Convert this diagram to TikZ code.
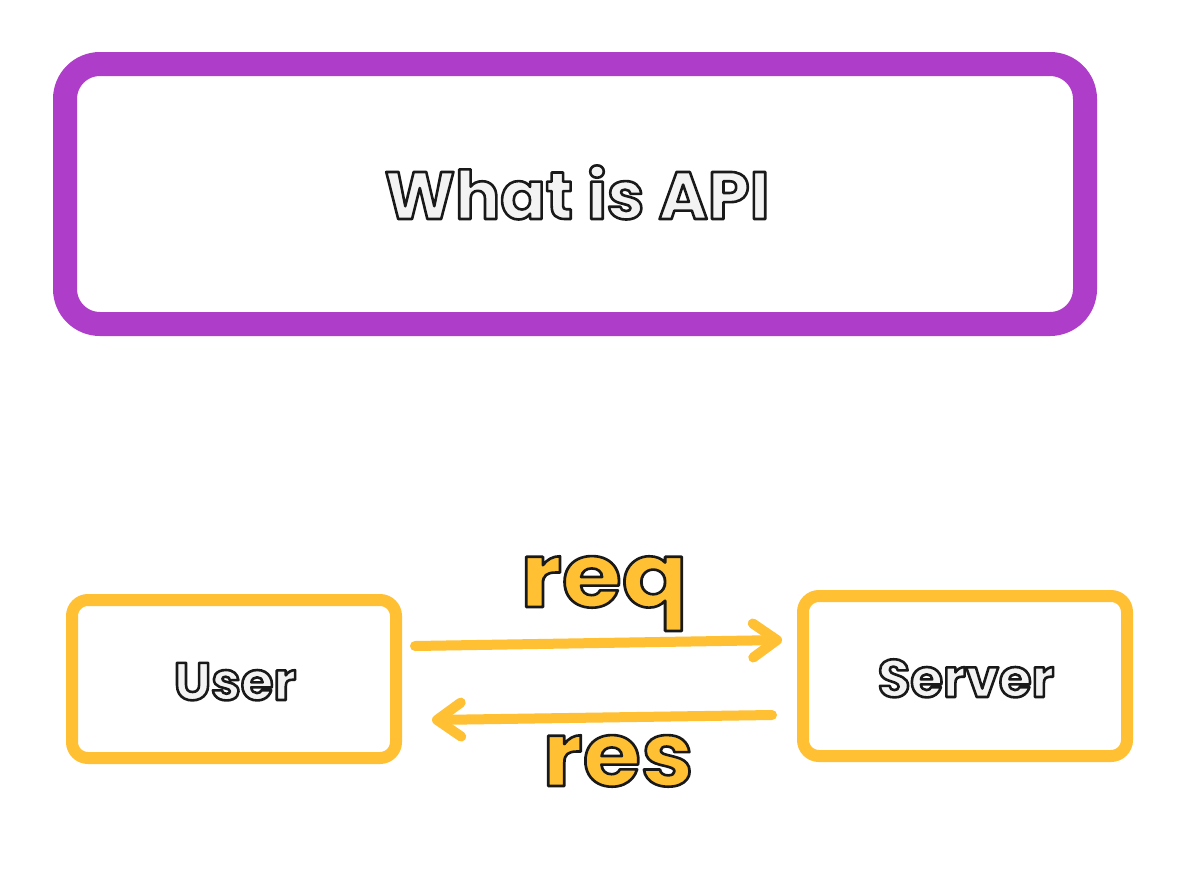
\documentclass[tikz,border=0pt]{standalone}
\usepackage{fontspec}
\setmainfont{Poppins}
\usetikzlibrary{arrows.meta}
\definecolor{violetline}{HTML}{AE3EC9}
\definecolor{yellowline}{HTML}{FFC034}
\definecolor{lightfill}{HTML}{F3F3F3}
\newcommand\outlinetext[2]{\textcolor{#1}{\special{pdf:literal direct 1 j 2.6 w 0.1 G 2 Tr}#2\special{pdf:literal direct 0 Tr}}}
\tikzset{
  titlebox/.style={draw=violetline, line width=24pt, rounded corners=35pt, minimum width=1020pt, minimum height=260pt, inner sep=0pt},
  actorbox/.style={draw=yellowline, line width=12pt, rounded corners=16pt, inner sep=0pt},
  boxlabel/.style={font=\fontsize{53}{60}\selectfont\bfseries, anchor=base},
  flowlabel/.style={font=\fontsize{90}{92}\selectfont\bfseries, anchor=base},
  flow/.style={draw=yellowline, line width=10pt, line cap=round, -{Straight Barb[length=24pt,width=34pt,round]}}
}
\begin{document}
\begin{tikzpicture}[x=1pt,y=-1pt]
\useasboundingbox[fill=white] (0,0) rectangle (1191,881);
% title
\node[titlebox] (title) at (575,194) {};
\node[font=\fontsize{67}{76}\selectfont\bfseries, anchor=base] (titletext) at (577,219) {\outlinetext{lightfill}{What is API}};
% actors
\node[actorbox, minimum width=324pt, minimum height=158pt] (user) at (234,679) {};
\node[actorbox, minimum width=324pt, minimum height=160pt] (server) at (965,676) {};
\node[boxlabel] (usertext) at (235,700) {\outlinetext{lightfill}{User}};
\node[boxlabel] (servertext) at (966,697) {\outlinetext{lightfill}{Server}};
% connectors
\coordinate (reqstart) at (415,646);
\coordinate (reqend) at (782,640);
\coordinate (resstart) at (772,715);
\coordinate (resend) at (432,720);
\draw[flow] (reqstart) -- (reqend);
\draw[flow] (resstart) -- (resend);
\node[flowlabel, xscale=1.08] (reqtext) at (604,607) {\outlinetext{yellowline}{req}};
\node[flowlabel, xscale=1.05] (restext) at (618,786) {\outlinetext{yellowline}{res}};
\end{tikzpicture}
\end{document}
